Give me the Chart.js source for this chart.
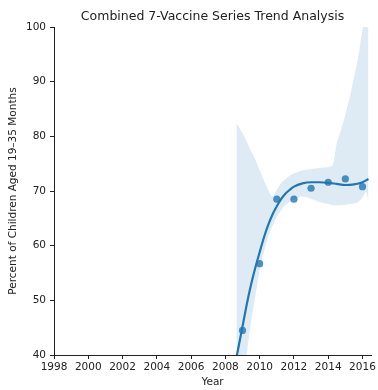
<!DOCTYPE html>
<html>
<head>
<meta charset="utf-8">
<script src="https://cdn.jsdelivr.net/npm/chart.js@4.4.0/dist/chart.umd.min.js"></script>
<style>
  html, body { margin: 0; padding: 0; background: #fff; }
</style>
</head>
<body>
<canvas id="trend" width="378" height="390"></canvas>
<script>
// observed rates
const years = [2009, 2010, 2011, 2012, 2013, 2014, 2015, 2016];
const rates = [44.5, 56.7, 68.5, 68.5, 70.5, 71.6, 72.2, 70.8];

// fitted trend line
const fitYears = [2008.65, 2009, 2009.25, 2009.5, 2009.75, 2010, 2010.25, 2010.5, 2010.75,
  2011, 2011.25, 2011.5, 2011.75, 2012, 2012.5, 2013, 2013.5, 2014, 2014.5, 2015, 2015.5, 2016, 2016.35];
const fitValues = [39.6, 45.2, 49.3, 52.9, 56.0, 58.8, 61.5, 63.8, 65.7,
  67.2, 68.5, 69.5, 70.2, 70.8, 71.4, 71.6, 71.6, 71.5, 71.3, 71.1, 71.2, 71.6, 72.2];

// confidence band
const bandYears = [2008.65, 2009, 2009.25, 2009.5, 2009.75, 2010, 2010.25, 2010.5, 2010.75,
  2011, 2011.25, 2011.5, 2011.75, 2012, 2012.5, 2013, 2013.5, 2014, 2014.25, 2014.4, 2014.5,
  2014.75, 2015, 2015.25, 2015.5, 2015.75, 2016, 2016.2, 2016.35];
const bandUpper = [82.4, 80.6, 79.0, 77.3, 75.7, 73.8, 71.9, 70.2, 69.0,
  70.2, 71.4, 72.2, 72.8, 73.2, 73.8, 74.0, 74.2, 74.4, 74.6, 76.9, 78.8,
  81.2, 84.0, 87.0, 90.7, 94.5, 99.5, 103, 107];
const bandLower = [26, 34, 40.2, 46.2, 50.8, 55.5, 58.8, 61.6, 63.6,
  65.2, 66.5, 67.4, 68.0, 68.5, 69.0, 68.6, 68.0, 67.6, 67.4, 67.4, 67.4,
  67.4, 67.5, 67.6, 67.7, 68.0, 68.8, 69.8, 68.2];

const xTicks = [1998, 2000, 2002, 2004, 2006, 2008, 2010, 2012, 2014, 2016];
const yTicks = [40, 50, 60, 70, 80, 90, 100];

const blue = '#1f77b4';
const ink = '#222';
Chart.defaults.font.family = '"DejaVu Sans", sans-serif';

const pts = (xs, ys) => xs.map((x, i) => ({ x: x, y: ys[i] }));

// title centred over the plot area, like matplotlib
const plotTitle = {
  id: 'plotTitle',
  afterDraw(chart) {
    const { ctx, chartArea } = chart;
    ctx.save();
    ctx.font = '12.5px "DejaVu Sans", sans-serif';
    ctx.fillStyle = ink;
    ctx.textAlign = 'center';
    ctx.textBaseline = 'middle';
    ctx.fillText('Combined 7-Vaccine Series Trend Analysis', (chartArea.left + chartArea.right) / 2, 17);
    ctx.restore();
  }
};

new Chart(document.getElementById('trend'), {
  type: 'line',
  data: {
    datasets: [
      {
        data: pts(bandYears, bandUpper),
        borderWidth: 0,
        pointRadius: 0,
        fill: false,
        tension: 0.3,
        order: 5
      },
      {
        data: pts(bandYears, bandLower),
        borderWidth: 0,
        pointRadius: 0,
        fill: '-1',
        backgroundColor: 'rgba(31, 119, 180, 0.15)',
        tension: 0.3,
        order: 4
      },
      {
        type: 'scatter',
        data: pts(years, rates),
        backgroundColor: 'rgba(31, 119, 180, 0.8)',
        borderWidth: 0,
        pointRadius: 3.6,
        order: 3
      },
      {
        data: pts(fitYears, fitValues),
        borderColor: blue,
        borderWidth: 2.2,
        pointRadius: 0,
        fill: false,
        tension: 0.4,
        cubicInterpolationMode: 'monotone',
        order: 2
      }
    ]
  },
  options: {
    responsive: false,
    animation: false,
    layout: { padding: { top: 27, right: 6, left: 0, bottom: 0 } },
    plugins: {
      legend: { display: false },
      tooltip: { enabled: false }
    },
    scales: {
      x: {
        type: 'linear',
        min: 1998,
        max: 2016.5,
        afterBuildTicks: s => { s.ticks = xTicks.map(v => ({ value: v })); },
        afterFit: s => { s.height = 35; },
        grid: { drawOnChartArea: false, tickLength: 4, tickColor: ink },
        border: { color: ink, width: 1 },
        ticks: {
          color: ink,
          font: { size: 10.5 },
          padding: 2,
          maxRotation: 0,
          autoSkip: false,
          callback: v => String(v)
        },
        title: {
          display: true,
          text: 'Year',
          color: ink,
          font: { size: 10.5 },
          padding: { top: 0, bottom: 1 }
        }
      },
      y: {
        min: 40,
        max: 100,
        afterBuildTicks: s => { s.ticks = yTicks.map(v => ({ value: v })); },
        afterFit: s => { s.width = 54; },
        grid: { drawOnChartArea: false, tickLength: 4, tickColor: ink },
        border: { color: ink, width: 1 },
        ticks: {
          color: ink,
          font: { size: 10.5 },
          padding: 4,
          callback: v => String(v)
        },
        title: {
          display: true,
          text: 'Percent of Children Aged 19–35 Months',
          color: ink,
          font: { size: 10.5 },
          padding: { top: 7, bottom: 0 }
        }
      }
    }
  },
  plugins: [plotTitle]
});
</script>
</body>
</html>
